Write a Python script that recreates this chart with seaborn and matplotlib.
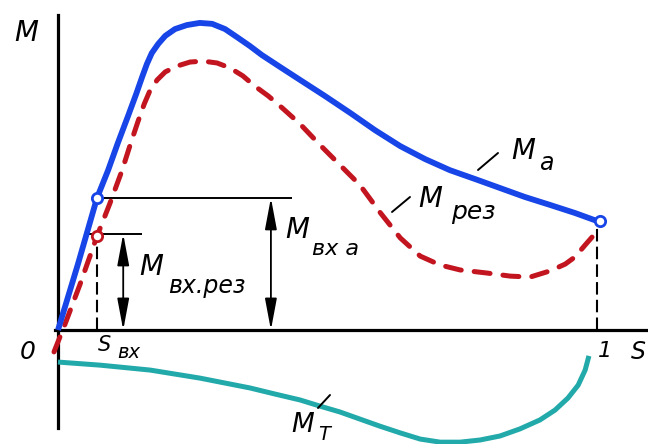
import matplotlib
matplotlib.use("Agg")
import matplotlib.pyplot as plt
import seaborn as sns
from matplotlib.lines import Line2D

# скольжение s и момент M (в долях максимума M_a)
s_a = [0.0, 0.037, 0.0724, 0.093, 0.111, 0.130, 0.145, 0.156, 0.165, 0.174,
       0.186, 0.199, 0.217, 0.239, 0.263, 0.286, 0.310, 0.332, 0.356, 0.378,
       0.412, 0.449, 0.495, 0.542, 0.588, 0.635, 0.681, 0.727, 0.774, 0.820,
       0.866, 0.913, 0.959, 1.0]
m_a = [0.0, 0.214, 0.429, 0.519, 0.607, 0.695, 0.766, 0.821, 0.864, 0.899,
       0.929, 0.955, 0.977, 0.990, 0.997, 0.994, 0.977, 0.951, 0.922, 0.893,
       0.854, 0.812, 0.760, 0.705, 0.649, 0.597, 0.555, 0.519, 0.490, 0.461,
       0.432, 0.406, 0.380, 0.354]

s_rez = [-0.0074, 0.013, 0.041, 0.0724, 0.0965, 0.119, 0.135, 0.148, 0.160,
         0.171, 0.184, 0.199, 0.221, 0.245, 0.269, 0.295, 0.319, 0.343, 0.365,
         0.390, 0.416, 0.449, 0.486, 0.523, 0.560, 0.597, 0.635, 0.672, 0.709,
         0.746, 0.796, 0.839, 0.876, 0.913, 0.941, 0.959, 0.978, 0.991, 1.0]
m_rez = [-0.071, 0.019, 0.149, 0.305, 0.412, 0.519, 0.607, 0.675, 0.734,
         0.779, 0.812, 0.838, 0.857, 0.870, 0.873, 0.867, 0.851, 0.825, 0.792,
         0.760, 0.721, 0.669, 0.601, 0.536, 0.471, 0.383, 0.299, 0.240, 0.211,
         0.195, 0.185, 0.175, 0.172, 0.192, 0.214, 0.237, 0.276, 0.302, 0.331]

s_t = [0.0, 0.078, 0.171, 0.263, 0.356, 0.403, 0.449, 0.486, 0.523, 0.560,
       0.597, 0.635, 0.672, 0.709, 0.746, 0.783, 0.820, 0.857, 0.894, 0.922,
       0.946, 0.965, 0.978, 0.985]
m_t = [-0.104, -0.114, -0.130, -0.156, -0.188, -0.208, -0.227, -0.247, -0.266,
       -0.289, -0.312, -0.334, -0.354, -0.364, -0.364, -0.357, -0.344, -0.321,
       -0.292, -0.260, -0.221, -0.179, -0.130, -0.084]

s_vx = 0.0724
m_vx_a = 0.429
m_vx_rez = 0.305
m_a_end = 0.354
m_rez_end = 0.331

BLUE = "#1745e8"
RED = "#c3151f"
TEAL = "#22a9a9"

W, H = 648, 444


def fxy(x, y):
    # пиксели картинки -> доли фигуры
    return x / W, 1 - y / H


def main():
    sns.set_theme(style="white")
    plt.rcParams["font.family"] = ["DejaVu Sans"]

    fig = plt.figure(figsize=(W / 100, H / 100), dpi=100)
    ax = fig.add_axes([0, 0, 1, 1])
    ax.set_xlim(-0.1076, 1.0946)
    ax.set_ylim(-0.370, 1.0714)

    # оси через ноль
    for side in ["top", "right"]:
        ax.spines[side].set_visible(False)
    ax.spines["left"].set_position(("data", 0))
    ax.spines["bottom"].set_position(("data", 0))
    ax.spines["left"].set_bounds(-0.318, 1.023)
    ax.spines["bottom"].set_bounds(-0.006, 1.0946)
    for side in ["left", "bottom"]:
        ax.spines[side].set_linewidth(2.3)
        ax.spines[side].set_color("black")
    ax.set_xticks([])
    ax.set_yticks([])
    ax.set_xlabel("")
    ax.set_ylabel("")

    # === КРИВЫЕ ===
    sns.lineplot(x=s_t, y=m_t, sort=False, estimator=None, color=TEAL,
                 linewidth=3.6, ax=ax, solid_capstyle="butt",
                 solid_joinstyle="round", zorder=3)
    sns.lineplot(x=s_rez, y=m_rez, sort=False, estimator=None, color=RED,
                 linewidth=3.6, ax=ax, linestyle=(0, (3.2, 2.6)),
                 dash_capstyle="round", dash_joinstyle="round", zorder=3)
    sns.lineplot(x=s_a, y=m_a, sort=False, estimator=None, color=BLUE,
                 linewidth=4.2, ax=ax, solid_capstyle="butt",
                 solid_joinstyle="round", zorder=4)

    # вспомогательные линии
    ax.hlines(m_vx_a, s_vx, 0.434, color="black", lw=1.4, zorder=2)
    ax.hlines(m_vx_rez + 0.007, 0.056, 0.156, color="black", lw=1.4, zorder=2)
    ax.vlines([s_vx, 1.0], 0, [m_vx_rez, m_rez_end], color="black", lw=1.5,
              linestyles=(0, (6, 2.5)), zorder=2)

    arrow = dict(arrowstyle="<|-|>,head_length=1.6,head_width=0.3",
                 color="black", lw=1.3, shrinkA=0, shrinkB=0)
    ax.annotate("", xy=(0.121, 0), xytext=(0.121, m_vx_rez + 0.007),
                arrowprops=arrow)
    ax.annotate("", xy=(0.395, 0), xytext=(0.395, m_vx_a), arrowprops=arrow)

    # кружки
    ax.scatter([s_vx, 1.0055], [m_vx_a, m_a_end], s=55, facecolor="white",
               edgecolor=BLUE, linewidth=2.0, zorder=6)
    ax.scatter([s_vx], [m_vx_rez], s=55, facecolor="white",
               edgecolor=RED, linewidth=2.0, zorder=6)

    # выноски
    for (x1, y1, x2, y2) in [(478, 170, 498, 153), (392, 212, 410, 197),
                             (318, 408, 330, 395)]:
        a = fxy(x1, y1)
        b = fxy(x2, y2)
        fig.add_artist(Line2D([a[0], b[0]], [a[1], b[1]],
                              transform=fig.transFigure, color="black", lw=1.4))

    # === ПОДПИСИ ===
    txt = dict(style="italic", ha="center", va="center", color="black")
    fig.text(*fxy(26, 33), "M", fontsize=20, **txt)
    fig.text(*fxy(28, 352), "0", fontsize=18, **txt)
    fig.text(*fxy(605, 351), "1", fontsize=16, **txt)
    fig.text(*fxy(638, 352), "S", fontsize=17, **txt)
    fig.text(*fxy(105, 345), "S", fontsize=15, **txt)
    fig.text(*fxy(129, 352), "вх", fontsize=14, **txt)

    fig.text(*fxy(523, 151), "M", fontsize=20, **txt)
    fig.text(*fxy(546, 163), "а", fontsize=17, **txt)
    fig.text(*fxy(430, 199), "M", fontsize=20, **txt)
    fig.text(*fxy(473, 212), "рез", fontsize=18, **txt)
    fig.text(*fxy(297, 230), "M", fontsize=20, **txt)
    fig.text(*fxy(335, 249), "вх а", fontsize=16, **txt)
    fig.text(*fxy(151, 267), "M", fontsize=20, **txt)
    fig.text(*fxy(207, 286), "вх.рез", fontsize=17, **txt)
    fig.text(*fxy(303, 425), "M", fontsize=19, **txt)
    fig.text(*fxy(324, 434), "T", fontsize=14, **txt)

    fig.savefig("out.png", dpi=100)


if __name__ == "__main__":
    main()
